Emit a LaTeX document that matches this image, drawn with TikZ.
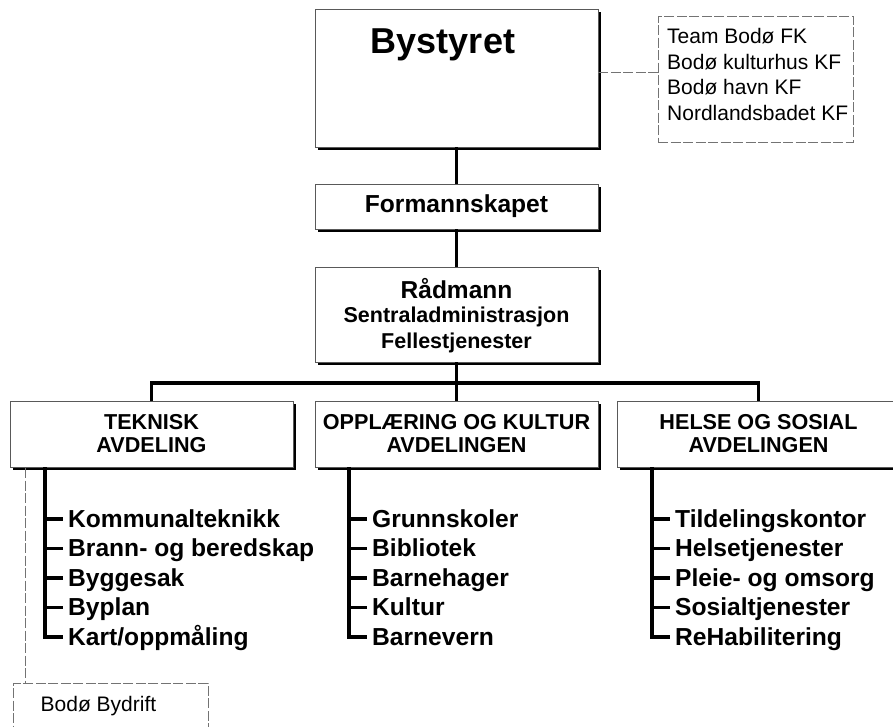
\documentclass[tikz,border=0pt]{standalone}
\usepackage{fontspec}
\setmainfont{Liberation Sans}
\usetikzlibrary{shadows}
\begin{document}
\begin{tikzpicture}[x=1pt,y=-1pt,
  box/.style={draw=black!65, line width=0.8pt, fill=white, inner sep=0pt, align=center,
    drop shadow={shadow xshift=3pt, shadow yshift=-3pt, fill=black, opacity=1}},
  conn/.style={line width=3.5pt, black},
  dline/.style={draw=black!55, line width=0.8pt, dash pattern=on 10pt off 2.5pt},
  dbox/.style={dline, fill=white, inner sep=0pt},
  dept/.style={font=\fontsize{21.6}{23}\selectfont\bfseries, align=center},
  item/.style={font=\fontsize{24.6}{29.5}\selectfont\bfseries, anchor=west, inner sep=0pt, text height=16pt, text depth=0pt},
  sidetext/.style={font=\fontsize{21}{25}\selectfont, anchor=west, inner sep=0pt, text height=15pt, text depth=0pt},
  radtext/.style={font=\fontsize{21.5}{25}\selectfont\bfseries, inner sep=0pt}
]
\useasboundingbox (0,0) rectangle (893,726);

% top chain
\node[box, minimum width=283pt, minimum height=138pt] (bys) at (456.5,78) {};
\node[font=\fontsize{36}{40}\selectfont\bfseries] (bystxt) at (443,45) {Bystyret};
\node[dbox, minimum width=195pt, minimum height=126pt] (side) at (755.5,79) {};
\foreach \t [count=\i] in {Team Bodø FK, Bodø kulturhus KF, Bodø havn KF, Nordlandsbadet KF}
  \node[sidetext] (sd\i) at (667,10.5+25.5*\i) {\t};
\coordinate (sdy) at (620,72);
\draw[dline] (bys.east |- sdy) -- (side.west |- sdy);

\node[box, minimum width=283pt, minimum height=45pt, font=\fontsize{24.6}{26}\selectfont\bfseries] (form) at (456.5,206.5) {Formannskapet};
\node[box, minimum width=283pt, minimum height=95pt] (rad) at (456.5,314.5) {};
\node[font=\fontsize{24.5}{28}\selectfont\bfseries, inner sep=0pt] (rad1) at (456.5,289) {Rådmann};
\node[radtext] (rad2) at (456.5,317) {Sentraladministrasjon};
\node[radtext] (rad3) at (456.5,343) {Fellestjenester};

\draw[conn] (bys.south -| form.north) -- (form.north);
\draw[conn] (form.south) -- (rad.north);

% departments
\node[box, dept, minimum width=283pt, minimum height=66pt] (tek) at (151.5,434) {TEKNISK\\AVDELING};
\node[box, dept, minimum width=283pt, minimum height=66pt] (opp) at (456.5,434) {OPPLÆRING OG KULTUR\\AVDELINGEN};
\node[box, dept, minimum width=283pt, minimum height=66pt] (hel) at (758.5,434) {HELSE OG SOSIAL\\AVDELINGEN};

\coordinate (busL) at (151.5,383);
\coordinate (busR) at (758.5,383);
\draw[conn] (tek.north) -- (busL) -- (busR) -- (hel.north);
\draw[conn] (rad.south) -- (opp.north);

% lists
\foreach \t [count=\i] in {Kommunalteknikk, Brann- og beredskap, Byggesak, Byplan, Kart/oppmåling}
  \node[item] (tk\i) at (68,489.5+29.5*\i) {\t};
\foreach \t [count=\i] in {Grunnskoler, Bibliotek, Barnehager, Kultur, Barnevern}
  \node[item] (op\i) at (372,489.5+29.5*\i) {\t};
\foreach \t [count=\i] in {Tildelingskontor, Helsetjenester, Pleie- og omsorg, Sosialtjenester, ReHabilitering}
  \node[item] (he\i) at (675,489.5+29.5*\i) {\t};

\coordinate (tkb) at (45,467);
\coordinate (opb) at (349,467);
\coordinate (heb) at (652,467);
\draw[conn] (tkb) |- ([xshift=-5pt]tk5.west);
\draw[conn] (opb) |- ([xshift=-5pt]op5.west);
\draw[conn] (heb) |- ([xshift=-5pt]he5.west);
\foreach \i in {1,2,3,4} {
  \draw[conn] (tk\i.west -| tkb) -- ([xshift=-5pt]tk\i.west);
  \draw[conn] (op\i.west -| opb) -- ([xshift=-5pt]op\i.west);
  \draw[conn] (he\i.west -| heb) -- ([xshift=-5pt]he\i.west);
}

% Bodø Bydrift
\node[dbox, minimum width=195pt, minimum height=80pt] (byd) at (110.5,723) {};
\node[font=\fontsize{21}{24}\selectfont] (bydtxt) at (98.5,706) {Bodø Bydrift};
\coordinate (tekd) at (25,468);
\draw[dline] (tekd) -- (tekd |- byd.north);
\end{tikzpicture}
\end{document}
